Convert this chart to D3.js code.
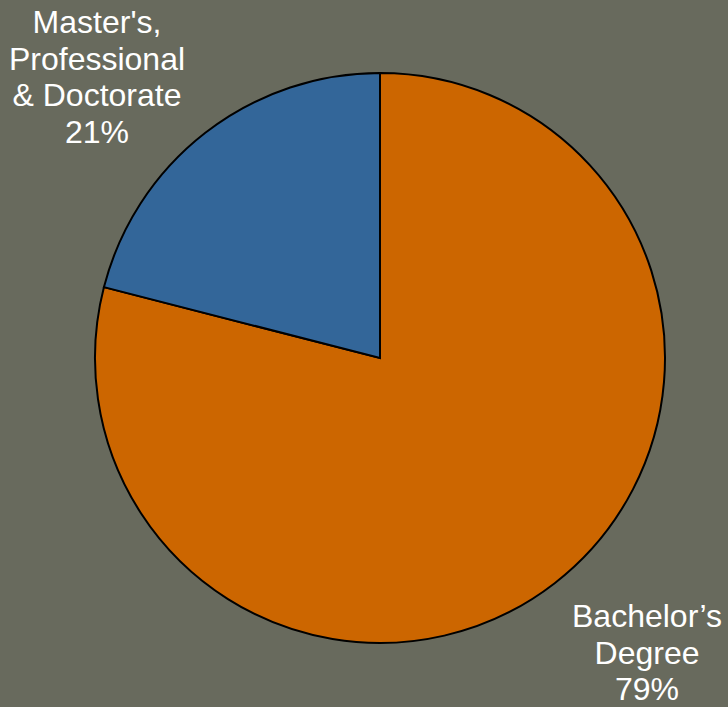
<!DOCTYPE html>
<html>
<head>
<meta charset="utf-8">
<script src="https://cdn.jsdelivr.net/npm/d3@7"></script>
<style>
  html, body { margin: 0; padding: 0; background: #686a5d; }
  svg { display: block; }
</style>
</head>
<body>
<svg id="chart" width="728" height="707"></svg>
<script>
// Degree mix
const categories = ["Bachelor’s Degree", "Master's, Professional & Doctorate"];
const shares = [79, 21];
const labelLines = [
  ["Bachelor’s", "Degree", "79%"],
  ["Master's,", "Professional", "& Doctorate", "21%"]
];
const colors = ["#cc6600", "#336699"];
const labelCenters = [[647, 627], [97, 33]]; // x centre, first baseline

const svg = d3.select("#chart");
const W = 728, H = 707;
svg.append("rect").attr("width", W).attr("height", H).attr("fill", "#686a5d");

const cx = 380, cy = 358, r = 285;

const pie = d3.pie().sort(null).value(d => d)(shares);
const arc = d3.arc().innerRadius(0).outerRadius(r);

const g = svg.append("g").attr("transform", `translate(${cx},${cy})`);
g.selectAll("path")
  .data(pie)
  .join("path")
  .attr("d", arc)
  .attr("fill", (d, i) => colors[i])
  .attr("stroke", "#000")
  .attr("stroke-width", 2)
  .attr("stroke-linejoin", "miter");

const lineH = 36.7;
labelLines.forEach((lines, i) => {
  const t = svg.append("text")
    .attr("text-anchor", "middle")
    .attr("font-family", "Liberation Sans, Arial, sans-serif")
    .attr("font-size", 32)
    .attr("fill", "#ffffff");
  lines.forEach((ln, j) => {
    t.append("tspan")
      .attr("x", labelCenters[i][0])
      .attr("y", labelCenters[i][1] + j * lineH)
      .text(ln);
  });
});
</script>
</body>
</html>
